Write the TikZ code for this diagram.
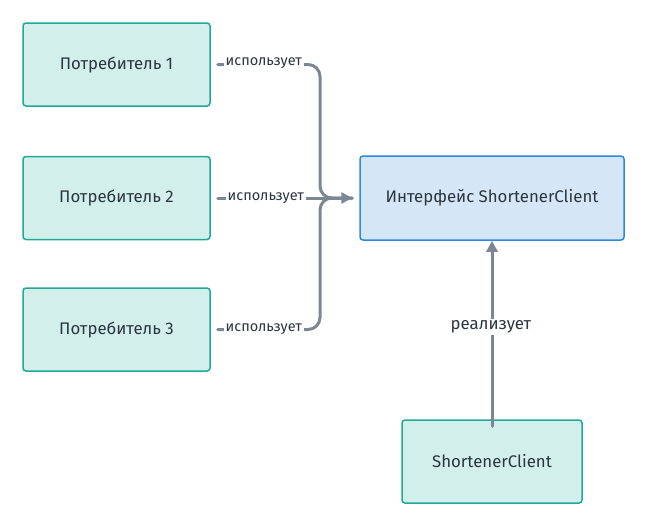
\documentclass[tikz,border=0pt]{standalone}
\usepackage{fontspec}
\setmainfont{Fira Sans}
\usetikzlibrary{arrows.meta}
\definecolor{tealfill}{HTML}{D2EFEC}
\definecolor{tealline}{HTML}{1FAA98}
\definecolor{bluefill}{HTML}{D5E6F6}
\definecolor{blueline}{HTML}{2E8AE0}
\definecolor{conn}{HTML}{7B8794}
\definecolor{txt}{HTML}{2B3640}
\tikzset{
  consumer/.style={draw=tealline, fill=tealfill, line width=1.5pt, rounded corners=3pt,
    minimum width=187pt, minimum height=83pt, text=txt, font=\fontsize{16.8}{20}\selectfont, inner sep=0pt},
  iface/.style={draw=blueline, fill=bluefill, line width=1.5pt, rounded corners=3pt,
    minimum width=264pt, minimum height=84pt, text=txt, font=\fontsize{16.8}{20}\selectfont, inner sep=0pt},
  conline/.style={draw=conn, line width=3pt, line cap=round, rounded corners=12pt},
  arr/.style={-{Triangle[length=11pt,width=11pt]}},
  lbl/.style={fill=white, text=txt, inner sep=2pt, font=\fontsize{14.5}{17}\selectfont}
}
\begin{document}
\begin{tikzpicture}[x=1pt,y=-1pt]
\useasboundingbox (0,0) rectangle (648,528);
\node[consumer] (p1) at (116.5,64.5) {Потребитель 1};
\node[consumer] (p2) at (116.5,198) {Потребитель 2};
\node[consumer] (p3) at (116.5,329.5) {Потребитель 3};
\node[iface] (if) at (492,198) {Интерфейс ShortenerClient};
\node[consumer, minimum width=180pt] (sc) at (492,461.5) {ShortenerClient};
\coordinate (j) at (320,198);
\draw[conline] ([xshift=7pt]p1.east) -| (j) -- ([xshift=-7pt]if.west);
\draw[conline] ([xshift=7pt]p3.east) -| (j) -- ([xshift=-7pt]if.west);
\draw[conline, arr] ([xshift=7pt]p2.east) -- ([xshift=-7pt]if.west);
\draw[conline, arr] ([yshift=-7pt]sc.north) -- (if.south);
\node[lbl] (l1) at ([xshift=53pt,yshift=1pt]p1.east) {использует};
\node[lbl] (l2) at ([xshift=55pt]p2.east) {использует};
\node[lbl] (l3) at ([xshift=53pt]p3.east) {использует};
\node[lbl, font=\fontsize{16.8}{20}\selectfont] (l4) at (491,327) {реализует};
\end{tikzpicture}
\end{document}
